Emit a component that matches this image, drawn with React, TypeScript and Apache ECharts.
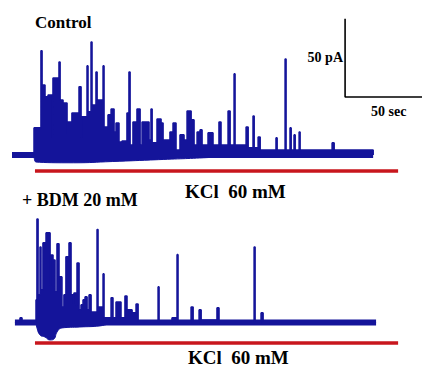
import React, { useEffect, useRef } from "react";
import * as echarts from "echarts";

// Time in seconds, current in pA
const controlTrace: [number, number][] = [
  [0, 0], [13.6, 0], [14.3, 17.3], [18.2, 17.3], [18.8, 66.5], [19.5, 44.7], [21.4, 37.1], [23.4, 38.3],
  [26.0, 11.5], [26.6, 49.2], [29.9, 49.2], [30.5, 59.4], [31.2, 35.1], [33.1, 33.2], [35.7, 14.1],
  [36.3, 21.1], [38.9, 26.8], [43.5, 43.5], [44.8, 11.5], [45.4, 24.3], [48.7, 56.9], [49.3, 27.5],
  [51.3, 72.2], [51.9, 31.9], [54.5, 53.0], [55.2, 35.1], [59.1, 56.9], [59.7, 17.9], [62.3, 25.6],
  [64.3, 29.4], [66.2, 14.7], [67.5, 20.4], [69.4, 8.3], [71.4, 8.9], [74.6, 26.8], [75.9, 53.0],
  [76.6, 6.4], [78.5, 21.1], [81.1, 29.4], [83.1, 6.4], [84.4, 21.1], [87.6, 21.1], [88.9, 9.6],
  [90.2, 29.4], [90.9, 7.7], [94.1, 23.0], [96.7, 20.4], [98.0, 9.6], [102.5, 14.7], [104.5, 20.4],
  [106.4, 3.2], [109.0, 12.8], [111.6, 9.6], [113.6, 28.1], [116.2, 22.4], [118.1, 6.4], [120.1, 14.7],
  [121.4, 3.2], [122.0, 16.0], [123.3, 6.4], [127.2, 14.1], [130.4, 6.4], [134.3, 21.1], [135.6, 6.4],
  [140.2, 28.1], [141.5, 6.4], [144.1, 51.8], [144.7, 6.4], [151.9, 17.9], [153.2, 4.5], [156.4, 24.9],
  [157.1, 4.5], [159.7, 11.5], [161.0, 3.2], [171.3, 10.9], [172.0, 3.2], [177.2, 61.3], [177.8, 3.2],
  [180.4, 17.3], [181.1, 3.2], [183.0, 12.8], [183.7, 3.2], [186.3, 14.7], [186.9, 3.2], [207.7, 7.7],
  [209.0, 3.2], [234.3, 0],
];
const controlLower: [number, number][] = [
  [14.3, 0], [15.5, -4.5], [40, -5], [65, -4.2], [95, -3], [130, -1.5], [150, 0],
];

const bdmTrace: [number, number][] = [
  [1.9, 0], [5.2, 2.9], [6.5, 0], [15.6, 14.4], [16.2, 66.1], [16.9, 17.6], [18.2, 48.2], [18.8, 20.8],
  [20.1, 50.8], [22.1, 57.2], [24.7, 24.0], [25.3, 43.1], [26.6, 39.9], [27.9, 19.5], [29.2, 50.2],
  [30.5, 29.1], [32.4, 9.9], [33.7, 17.6], [35.0, 41.9], [37.0, 50.8], [38.3, 17.6], [39.6, 12.5],
  [40.2, 18.8], [41.5, 11.2], [42.2, 38.0], [43.5, 8.0], [44.8, 11.2], [46.1, 14.4], [47.4, 16.3],
  [48.7, 8.0], [50.0, 17.6], [51.3, 6.7], [55.2, 59.4], [55.8, 9.9], [59.1, 31.0], [59.7, 2.9],
  [64.3, 15.7], [65.5, 2.9], [67.5, 13.1], [70.7, 2.9], [73.3, 16.9], [74.6, 8.0], [77.9, 6.1],
  [80.5, 11.8], [81.8, 0], [94.8, 22.7], [95.4, 0], [103.8, 2.9], [107.1, 43.3], [107.7, 0],
  [116.2, 9.9], [117.5, 0], [121.4, 8.0], [122.7, 1.6], [133.0, 9.3], [134.3, 0], [157.1, 48.2],
  [157.7, 0], [161.6, 6.1], [162.9, 0], [236.2, 0],
];
const bdmLower: [number, number][] = [
  [15.6, 0], [16.2, -3.5], [18.2, -8], [21.4, -9.3], [24.7, -11.2], [27.3, -10.5], [29.2, -6.1],
  [32.4, -3.5], [44.1, -2.9], [57.1, -2.2], [65, 0],
];

const kclPeriod = [14.9, 250.5]; // s
const kclLevelTop = -10.2; // pA, position of the application bar
const kclLevelBottom = -13.1;
const scaleOrigin = [216.1, 37]; // s, pA
const scaleSec = 50;
const scalePA = 50;

const labels = {
  control: "Control",
  bdm: "+ BDM 20 mM",
  kcl: "KCl  60 mM",
  pa: "50 pA",
  sec: "50 sec",
};

const BLUE = "#14149a";
const RED = "#c8161d";
const FONT = "'Liberation Serif', 'DejaVu Serif', serif";

function traceSeries(idx: number, trace: [number, number][], lower: [number, number][], kclLevel: number) {
  const start = trace[0][0];
  const end = trace[trace.length - 1][0];
  return [
    {
      type: "line", xAxisIndex: idx, yAxisIndex: idx, data: lower, smooth: true, symbol: "none",
      lineStyle: { width: 1, color: BLUE }, areaStyle: { color: BLUE, opacity: 1, origin: "auto" }, z: 2,
    },
    {
      type: "line", xAxisIndex: idx, yAxisIndex: idx, data: [[start, 0], [end, 0]], symbol: "none",
      lineStyle: { width: 6, color: BLUE }, z: 2,
    },
    {
      type: "line", xAxisIndex: idx, yAxisIndex: idx, data: trace, step: "end", symbol: "none",
      lineStyle: { width: 1.6, color: BLUE }, areaStyle: { color: BLUE, opacity: 1, origin: "auto" }, z: 3,
    },
    {
      type: "line", xAxisIndex: idx, yAxisIndex: idx, data: [[kclPeriod[0], kclLevel], [kclPeriod[1], kclLevel]],
      symbol: "none", lineStyle: { width: 3.5, color: RED }, z: 3,
    },
  ];
}

function label(text: string, x: number, y: number, size: number, align: string = "left") {
  return {
    type: "text", x, y,
    style: {
      text, font: `bold ${size}px ${FONT}`, fill: "#000",
      align, verticalAlign: "middle",
    },
  };
}

export default function App() {
  const ref = useRef<HTMLDivElement>(null);
  useEffect(() => {
    document.body.style.margin = "0";
    if (!ref.current) return;
    const chart = echarts.init(ref.current, null, { renderer: "svg" });
    const axisX = (i: number) => ({ type: "value", gridIndex: i, min: 0, max: 266, show: false });
    chart.setOption({
      animation: false,
      backgroundColor: "#ffffff",
      grid: [
        { left: 12, width: 410, top: 0, height: 180 },
        { left: 12, width: 410, top: 180, height: 180 },
      ],
      xAxis: [axisX(0), axisX(1)],
      yAxis: [
        { type: "value", gridIndex: 0, min: -16, max: 99, show: false },
        { type: "value", gridIndex: 1, min: -24, max: 91, show: false },
      ],
      series: [
        ...traceSeries(0, controlTrace, controlLower, kclLevelTop),
        ...traceSeries(1, bdmTrace, bdmLower, kclLevelBottom),
        {
          type: "line", xAxisIndex: 0, yAxisIndex: 0, symbol: "none",
          data: [
            [scaleOrigin[0], scaleOrigin[1] + scalePA],
            [scaleOrigin[0], scaleOrigin[1]],
            [scaleOrigin[0] + scaleSec, scaleOrigin[1]],
          ],
          lineStyle: { width: 1.6, color: "#000" }, z: 4,
        },
      ],
      graphic: [
        label(labels.control, 35, 22, 17),
        label(labels.kcl, 185, 191, 19),
        label(labels.bdm, 22, 200, 18),
        label(labels.kcl, 188, 357, 19),
        label(labels.pa, 343, 57, 14, "right"),
        label(labels.sec, 371, 111, 14),
      ],
    });
    return () => chart.dispose();
  }, []);
  return <div ref={ref} style={{ width: 422, height: 367 }} />;
}
